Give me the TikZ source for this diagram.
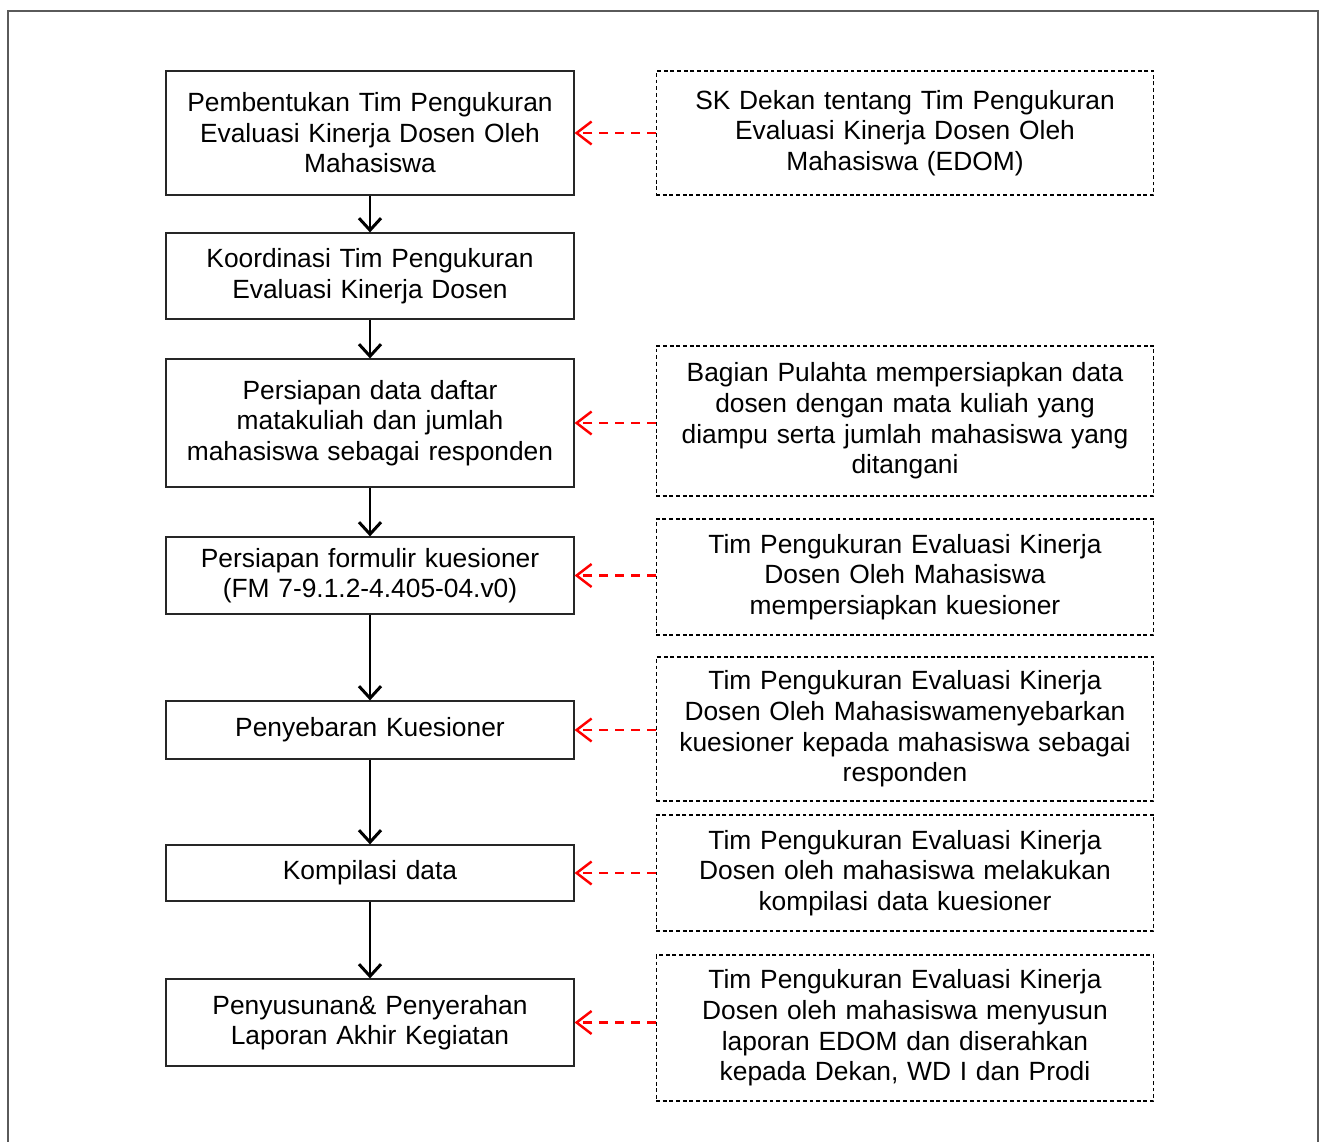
\documentclass[tikz,border=0pt]{standalone}
\usepackage{fontspec}
\setmainfont{Liberation Sans}
\usetikzlibrary{arrows.meta,positioning}
\definecolor{frameGray}{RGB}{90,90,90}
\definecolor{flowRed}{RGB}{255,0,0}

\begin{document}
\begin{tikzpicture}[x=0.02cm,y=-0.02cm,
    font=\fontsize{15}{17.4}\selectfont,
    stepbox/.style={draw=black!85,line width=0.7pt,minimum width=8.16cm,text width=7.9cm,align=center,inner sep=0pt},
    notebox/.style={draw,dashed,dash pattern=on 2.2pt off 1.6pt,line width=0.6pt,minimum width=9.96cm,text width=9.5cm,align=center,inner sep=0pt},
    flow/.style={line width=1.7pt,-{Straight Barb[length=2.4mm,width=4.4mm,line width=1.7pt]}},
    feed/.style={flowRed,line width=1.4pt,dash pattern=on 5pt off 4pt,-{Straight Barb[length=3mm,width=4.6mm,line width=1.4pt]}}]
        \useasboundingbox (0,0) rectangle (1323,1142);
        % Frame
        \draw[frameGray,line width=0.9pt] (8,1142) -- (8,11) -- (1318,11) -- (1318,1142);
        % Steps
        \node[stepbox,minimum height=2.48cm] (s1) at (370,133) {Pembentukan Tim Pengukuran\\Evaluasi Kinerja Dosen Oleh\\Mahasiswa};
        \node[stepbox,minimum height=1.72cm] (s2) at (370,276) {Koordinasi Tim Pengukuran\\Evaluasi Kinerja Dosen};
        \node[stepbox,minimum height=2.56cm] (s3) at (370,423) {Persiapan data daftar\\matakuliah dan jumlah\\mahasiswa sebagai responden};
        \node[stepbox,minimum height=1.54cm] (s4) at (370,575.5) {Persiapan formulir kuesioner\\(FM 7-9.1.2-4.405-04.v0)};
        \node[stepbox,minimum height=1.16cm] (s5) at (370,730) {Penyebaran Kuesioner};
        \node[stepbox,minimum height=1.12cm] (s6) at (370,873) {Kompilasi data};
        \node[stepbox,minimum height=1.74cm] (s7) at (370,1022.5) {Penyusunan\& Penyerahan\\Laporan Akhir Kegiatan};
        % Notes
        \node[notebox,minimum height=2.48cm] (n1) at (905,133) {SK Dekan tentang Tim Pengukuran\\Evaluasi Kinerja Dosen Oleh\\Mahasiswa (EDOM)};
        \node[notebox,minimum height=3.0cm] (n3) at (905,421) {Bagian Pulahta mempersiapkan data\\dosen dengan mata kuliah yang\\diampu serta jumlah mahasiswa yang\\ditangani};
        \node[notebox,minimum height=2.32cm] (n4) at (905,577) {Tim Pengukuran Evaluasi Kinerja\\Dosen Oleh Mahasiswa\\mempersiapkan kuesioner};
        \node[notebox,minimum height=2.88cm] (n5) at (905,729) {Tim Pengukuran Evaluasi Kinerja\\Dosen Oleh Mahasiswamenyebarkan\\kuesioner kepada mahasiswa sebagai\\responden};
        \node[notebox,minimum height=2.32cm] (n6) at (905,873) {Tim Pengukuran Evaluasi Kinerja\\Dosen oleh mahasiswa melakukan\\kompilasi data kuesioner};
        \node[notebox,minimum height=2.92cm] (n7) at (905,1028) {Tim Pengukuran Evaluasi Kinerja\\Dosen oleh mahasiswa menyusun\\laporan EDOM dan diserahkan\\kepada Dekan, WD I dan Prodi};
        % Flow
        \foreach \a/\b in {s1/s2,s2/s3,s3/s4,s4/s5,s5/s6,s6/s7}
          \draw[flow] (\a.south) -- (\b.north);
        % Inputs
        \foreach \n/\s in {n1/s1,n3/s3,n4/s4,n5/s5,n6/s6,n7/s7}
          \draw[feed] (\n.west |- \s.east) -- (\s.east);
      \end{tikzpicture}
\end{document}
